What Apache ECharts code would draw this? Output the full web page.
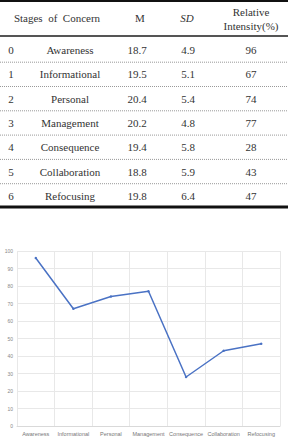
<!DOCTYPE html>
<html><head><meta charset="utf-8">
<script src="https://cdn.jsdelivr.net/npm/echarts@6/dist/echarts.min.js"></script>
<style>html,body{margin:0;padding:0;background:#fff;}#c{width:288px;height:437px;}</style>
</head><body><div id="c"></div>
<script>
const stageNums = ['0','1','2','3','4','5','6'];
const stages = ['Awareness','Informational','Personal','Management','Consequence','Collaboration','Refocusing'];
const means = ['18.7','19.5','20.4','20.2','19.4','18.8','19.8'];
const sds = ['4.9','5.1','5.4','4.8','5.8','5.9','6.4'];
const intensity = [96, 67, 74, 77, 28, 43, 47];
const yTicks = [0,10,20,30,40,50,60,70,80,90,100];

const chart = echarts.init(document.getElementById('c'), null, {renderer:'svg'});
const tc = '#333';
const g = [];
function txt(x,y,s,opt){ g.push({type:'text',x:x,y:y,style:Object.assign({text:s,fontFamily:'Liberation Serif',fontSize:11,fill:tc,textAlign:'center',textVerticalAlign:'middle'},opt||{})}); }
function line(y,w,color,dash){ g.push({type:'line',shape:{x1:0,y1:y,x2:288,y2:y},style:{stroke:color,lineWidth:w,lineDash:dash||null}}); }
line(1,2,'#111');
line(36,2,'#555');
line(207,3,'#111');
txt(57,18,'Stages  of  Concern');
txt(140,18,'M');
txt(187,18,'SD',{fontStyle:'italic'});
txt(251,12,'Relative');
txt(251,26,'Intensity(%)');
const rowY0 = 50, rowH = 24.3;
for (let i=0;i<stages.length;i++){
  const y = rowY0 + i*rowH;
  txt(11,y,stageNums[i]);
  txt(70,y,stages[i]);
  txt(137,y,means[i]);
  txt(188,y,sds[i]);
  txt(251,y,String(intensity[i]));
  if (i<stages.length-1) line(y+12.2,1,'#999',[1,1]);
}
chart.setOption({
  animation:false,
  graphic:g,
  grid:{left:17,right:8,top:251,bottom:9,containLabel:false},
  xAxis:{type:'category',data:stages,boundaryGap:true,
    axisLine:{lineStyle:{color:'#d9d9d9'}},axisTick:{show:false},
    axisLabel:{fontSize:5.5,color:'#777',margin:5,interval:0,fontFamily:'Liberation Sans'},
    splitLine:{show:true,lineStyle:{color:'#e8e8e8'}}},
  yAxis:{type:'value',min:0,max:100,interval:10,
    axisLine:{show:false},axisTick:{show:false},
    axisLabel:{fontSize:5,color:'#888',margin:4,fontFamily:'Liberation Sans'},
    splitLine:{lineStyle:{color:'#e8e8e8'}}},
  series:[{type:'line',data:intensity,symbol:'circle',symbolSize:2.5,
    lineStyle:{color:'#4a72c4',width:1.5},itemStyle:{color:'#4a72c4'}}]
});
</script></body></html>
